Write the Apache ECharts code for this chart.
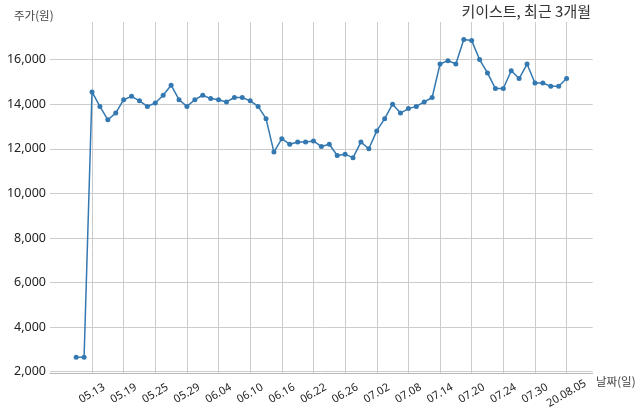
<!DOCTYPE html>
<html>
<head>
<meta charset="utf-8">
<script src="https://cdn.jsdelivr.net/npm/echarts@6/dist/echarts.min.js"></script>
<style>
html,body{margin:0;padding:0;background:#fff;}
#chart{width:640px;height:414px;}
</style>
</head>
<body>
<div id="chart"></div>
<script>
const dates = ["05.11","05.12","05.13","05.14","05.15","05.18","05.19","05.20","05.21","05.22",
  "05.25","05.26","05.27","05.28","05.29","06.01","06.02","06.03","06.04","06.05",
  "06.08","06.09","06.10","06.11","06.12","06.15","06.16","06.17","06.18","06.19",
  "06.22","06.23","06.24","06.25","06.26","06.29","06.30","07.01","07.02","07.03",
  "07.06","07.07","07.08","07.09","07.10","07.13","07.14","07.15","07.16","07.17",
  "07.20","07.21","07.22","07.23","07.24","07.27","07.28","07.29","07.30","07.31",
  "08.03","08.04","20.08.05"];
const prices = [2650,2650,14550,13900,13300,13600,14200,14350,14150,13900,
  14050,14400,14850,14200,13900,14200,14400,14250,14200,14100,
  14300,14300,14150,13900,13350,11850,12450,12200,12300,12300,
  12350,12100,12200,11700,11750,11600,12300,12000,12800,13350,
  14000,13600,13800,13900,14100,14300,15800,15950,15800,16900,
  16850,16000,15400,14700,14700,15500,15150,15800,14950,14950,
  14800,14800,15150];
const xTickIdx = [2,6,10,14,18,22,26,30,34,38,42,46,50,54,58,62];
const yTicks = [2000,4000,6000,8000,10000,12000,14000,16000];
const title = "키이스트, 최근 3개월";
const yName = "주가(원)";
const xName = "날짜(일)";

const chart = echarts.init(document.getElementById('chart'), null, {renderer:'canvas'});
const font = "'Noto Sans', 'Noto Sans CJK KR', sans-serif";
chart.setOption({
  animation: false,
  backgroundColor: '#ffffff',
  textStyle: {fontFamily: font},
  grid: {left: 50, right: 47.3, top: 22, bottom: 40.5, containLabel: false},
  graphic: [
    {type:'text', right: 49, top: 4, style:{text: title, font: "15px 'Noto Sans CJK KR', sans-serif", fill:'#333333'}},
    {type:'text', left: 14, top: 10, style:{text: yName, font: "11.5px 'Noto Sans CJK KR', sans-serif", fill:'#444444'}},
    {type:'text', left: 596, top: 376, style:{text: xName, font: "11.5px 'Noto Sans CJK KR', sans-serif", fill:'#444444'}}
  ],
  xAxis: {
    type: 'value',
    min: -3.31, max: 65.3,
    axisLine: {show: true, lineStyle: {color: '#b8b8b8', width: 1}},
    axisTick: {show: false, customValues: xTickIdx},
    splitLine: {show: true, lineStyle: {color: '#cccccc', width: 1}},
    axisLabel: {
      customValues: xTickIdx,
      rotate: 30,
      align: 'center',
      verticalAlign: 'middle',
      margin: 20,
      fontSize: 11,
      color: '#222222',
      fontFamily: font,
      formatter: v => dates[Math.round(v)]
    }
  },
  yAxis: {
    type: 'value',
    min: 1920, max: 17685,
    axisLine: {show: false},
    axisTick: {show: false, customValues: yTicks},
    splitLine: {show: true, lineStyle: {color: '#cccccc', width: 1}},
    axisLabel: {
      customValues: yTicks,
      fontSize: 12.5,
      color: '#222222',
      margin: 4,
      fontFamily: font,
      formatter: v => v.toLocaleString('en-US')
    }
  },
  series: [{
    type: 'line',
    data: prices.map((v, i) => [i, v]),
    symbol: 'circle',
    symbolSize: 5,
    showSymbol: true,
    lineStyle: {color: '#3378b0', width: 1.5},
    itemStyle: {color: '#3378b0'}
  }]
});
</script>
</body>
</html>
